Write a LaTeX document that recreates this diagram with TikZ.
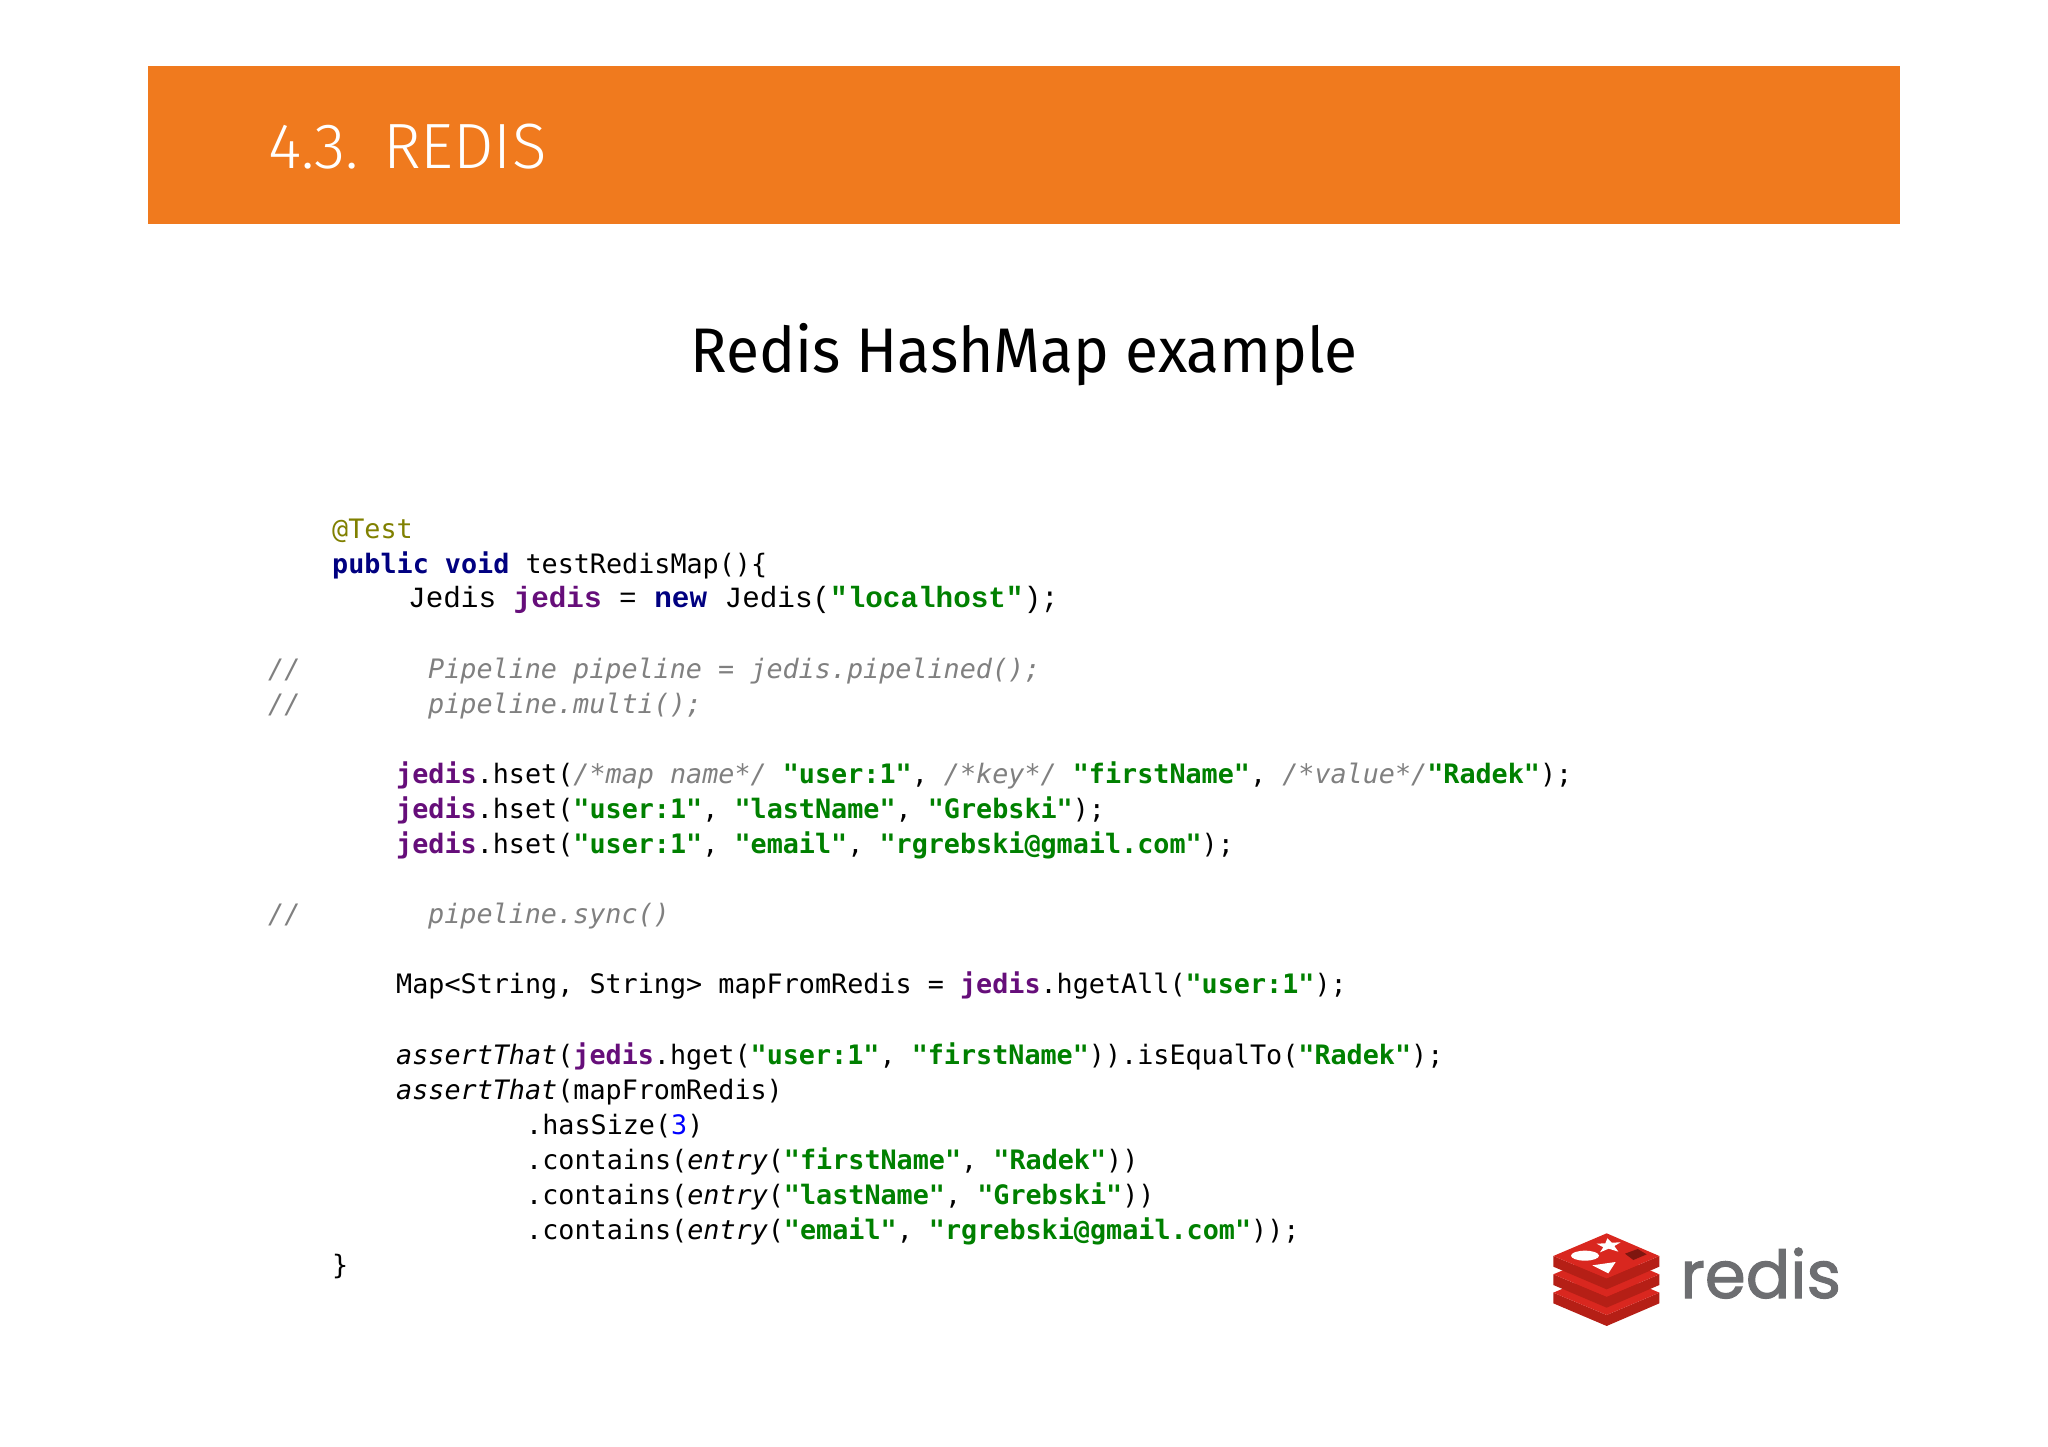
\documentclass[tikz,border=0pt]{standalone}
\usepackage{fontspec}
\setmainfont{Fira Sans}
\setmonofont{DejaVu Sans Mono}
\newfontfamily\sectionfont{Fira Sans Light}
\newfontfamily\headingfont[FakeStretch=0.96]{Fira Sans}
\newfontfamily\jedisfont{Liberation Mono}
\newfontfamily\logofont[FakeBold=1.6]{Poppins}
\definecolor{bannerorange}{HTML}{F07A1E}
\definecolor{annotcolor}{HTML}{808000}
\definecolor{keycolor}{HTML}{000080}
\definecolor{fieldcolor}{HTML}{660E7A}
\definecolor{strcolor}{HTML}{008000}
\definecolor{commentcolor}{HTML}{808080}
\definecolor{numcolor}{HTML}{0000FF}
\definecolor{logored}{HTML}{D9271F}
\definecolor{logodark}{HTML}{B51F16}
\definecolor{logogray}{HTML}{6D6E71}
\newcommand{\kw}[1]{\textcolor{keycolor}{\bfseries #1}}
\newcommand{\fld}[1]{\textcolor{fieldcolor}{\bfseries #1}}
\newcommand{\str}[1]{\textcolor{strcolor}{\bfseries "#1"}}
\newcommand{\cmt}[1]{\textcolor{commentcolor}{\itshape #1}}
\newcommand{\slab}[1]{
\fill [logodark] (160, 168+#1) -- (320, 235+#1) -- (478, 168+#1) -- (478, 200+#1) -- (320, 268+#1) -- (160, 200+#1) -- cycle;
\fill [logored] (160, 168+#1) -- (320, 100+#1) -- (478, 168+#1) -- (320, 235+#1) -- cycle;
}
\tikzset{
code/.style = {anchor = base west, inner sep = 0pt, font = \ttfamily\fontsize{26.76}{35}\selectfont},
jediscode/.style = {anchor = base west, inner sep = 0pt, font = \jedisfont\fontsize{29.3}{35}\selectfont},
comment/.style = {code, text = commentcolor, font = \ttfamily\itshape\fontsize{26.76}{35}\selectfont},
}
\begin{document}
\begin{tikzpicture}[x = 1pt, y = -1pt]
\useasboundingbox (0, 0) rectangle (2048, 1447);
\fill [bannerorange] (148, 66) rectangle (1900, 224);
\node (section) at (268, 169) [anchor = base west, inner sep = 0pt, text = white, font = \sectionfont\fontsize{64}{70}\selectfont] {4.3. REDIS};
\node (heading) at (1024, 372) [anchor = base, inner sep = 0pt, font = \headingfont\fontsize{63}{70}\selectfont] {Redis HashMap example};
\node (annot) at (332, 538) [code, text = annotcolor] {@Test};
\node (method) at (332, 573) [code] {\kw{public} \kw{void} testRedisMap()\{};
\node (client) at (408, 607) [jediscode] {Jedis \fld{jedis} = \kw{new} Jedis(\str{localhost});};
\node (slashone) at (268, 678) [comment] {//};
\node (pipeone) at (428, 678) [comment] {Pipeline pipeline = jedis.pipelined();};
\node (slashtwo) at (268, 713) [comment] {//};
\node (pipetwo) at (428, 713) [comment] {pipeline.multi();};
\node (hsetone) at (396, 783) [code] {\fld{jedis}.hset(\cmt{/*map name*/} \str{user:1}, \cmt{/*key*/} \str{firstName}, \cmt{/*value*/}\str{Radek});};
\node (hsettwo) at (396, 818) [code] {\fld{jedis}.hset(\str{user:1}, \str{lastName}, \str{Grebski});};
\node (hsetthree) at (396, 853) [code] {\fld{jedis}.hset(\str{user:1}, \str{email}, \str{rgrebski@gmail.com});};
\node (slashthree) at (268, 923) [comment] {//};
\node (pipethree) at (428, 923) [comment] {pipeline.sync()};
\node (mapline) at (396, 993) [code] {Map<String, String> mapFromRedis = \fld{jedis}.hgetAll(\str{user:1});};
\node (assertone) at (396, 1064) [code] {{\itshape assertThat}(\fld{jedis}.hget(\str{user:1}, \str{firstName})).isEqualTo(\str{Radek});};
\node (asserttwo) at (396, 1099) [code] {{\itshape assertThat}(mapFromRedis)};
\node (size) at (526, 1134) [code] {.hasSize(\textcolor{numcolor}{3})};
\node (entryone) at (526, 1169) [code] {.contains({\itshape entry}(\str{firstName}, \str{Radek}))};
\node (entrytwo) at (526, 1204) [code] {.contains({\itshape entry}(\str{lastName}, \str{Grebski}))};
\node (entrythree) at (526, 1239) [code] {.contains({\itshape entry}(\str{email}, \str{rgrebski@gmail.com}));};
\node (closing) at (332, 1274) [code] {\}};
\node (logotext) at (1680, 1298) [anchor = base west, inner sep = 0pt, text = logogray, font = \logofont\fontsize{66}{70}\selectfont] {redis};
% logo
\begin{scope}[shift = {(1500, 1200)}, x = 0.3333pt, y = -0.3333pt]
\slab{110}
\slab{55}
\slab{0}
\fill [white] (255, 167) ellipse [x radius = 42, y radius = 15];
\fill [white] (277, 196) -- (347, 186) -- (325, 220) -- cycle;
\fill [white] (322, 115) -- (335, 128) -- (362, 127) -- (343, 138) -- (355, 155) -- (326, 146) -- (300, 157) -- (310, 142) -- (290, 131) -- (316, 130) -- cycle;
\fill [logodark!70!black] (375, 161) -- (413, 147) -- (440, 163) -- (400, 180) -- cycle;
\end{scope}
\end{tikzpicture}
\end{document}
